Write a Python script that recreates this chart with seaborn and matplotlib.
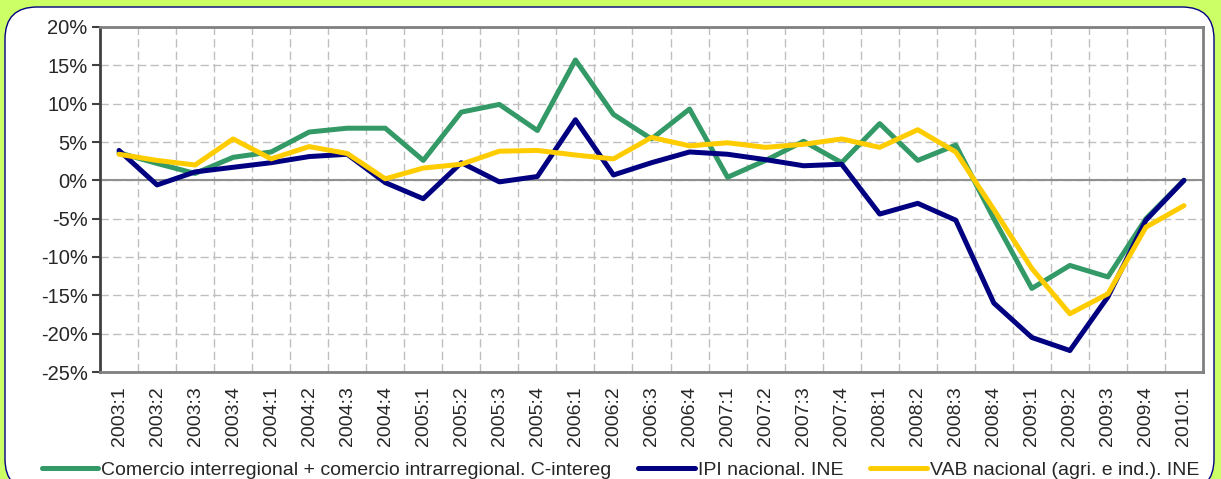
import matplotlib
matplotlib.use("Agg")
import matplotlib.pyplot as plt
from matplotlib.patches import FancyBboxPatch
from matplotlib.ticker import FuncFormatter
import seaborn as sns
import pandas as pd

quarters = ["2003:1", "2003:2", "2003:3", "2003:4", "2004:1", "2004:2", "2004:3", "2004:4",
            "2005:1", "2005:2", "2005:3", "2005:4", "2006:1", "2006:2", "2006:3", "2006:4",
            "2007:1", "2007:2", "2007:3", "2007:4", "2008:1", "2008:2", "2008:3", "2008:4",
            "2009:1", "2009:2", "2009:3", "2009:4", "2010:1"]

comercio = [3.6, 2.2, 0.9, 3.0, 3.7, 6.3, 6.8, 6.8, 2.6, 8.9, 9.9, 6.5, 15.7, 8.6, 5.4,
            9.3, 0.4, 2.6, 5.1, 2.3, 7.4, 2.6, 4.6, -5.0, -14.1, -11.1, -12.6, -5.0, 0.0]
ipi = [3.9, -0.6, 1.1, 1.7, 2.3, 3.1, 3.4, -0.3, -2.4, 2.3, -0.2, 0.5, 7.9, 0.7, 2.3,
       3.7, 3.4, 2.7, 1.9, 2.1, -4.4, -3.0, -5.2, -16.0, -20.5, -22.2, -15.2, -5.2, 0.0]
vab = [3.4, 2.6, 2.0, 5.4, 2.8, 4.4, 3.5, 0.2, 1.6, 2.1, 3.8, 3.9, 3.3, 2.8, 5.6,
       4.5, 4.9, 4.3, 4.7, 5.4, 4.3, 6.6, 3.7, -3.8, -11.5, -17.4, -14.8, -6.1, -3.3]

series_names = ["Comercio interregional + comercio intrarregional. C-intereg",
                "IPI nacional. INE",
                "VAB nacional (agri. e ind.). INE"]
colors = ["#339966", "#000080", "#FFCC00"]

df = pd.concat([
    pd.DataFrame({"trimestre": quarters, "valor": vals, "serie": name})
    for name, vals in zip(series_names, [comercio, ipi, vab])
])

sns.set_style("white")
plt.rcParams["font.family"] = ["Liberation Sans", "DejaVu Sans"]

fig = plt.figure(figsize=(12.21, 4.79), dpi=100)
fig.patch.set_facecolor("#CCFF66")

# white rounded frame behind everything
frame = FancyBboxPatch((0.05, -0.12), 12.09, 4.84,
                       boxstyle="round,pad=0,rounding_size=0.32",
                       transform=fig.dpi_scale_trans, facecolor="white",
                       edgecolor="#000080", linewidth=1.0, zorder=-5)
fig.add_artist(frame)

ax = fig.add_axes([100 / 1221, 1 - 372 / 479, 1103 / 1221, 345 / 479])
ax.set_facecolor("white")

sns.lineplot(data=df, x="trimestre", y="valor", hue="serie", palette=colors,
             linewidth=3.6, sort=False, ax=ax, legend=True, zorder=3)

ax.set_xlim(-0.5, len(quarters) - 0.5)
ax.set_ylim(-25, 20)
ax.set_yticks(range(-25, 21, 5))
ax.yaxis.set_major_formatter(FuncFormatter(lambda v, p: f"{v:.0f}%"))
ax.set_xticks(range(len(quarters)))
ax.set_xticklabels(quarters, rotation=90)
ax.set_xticks([i + 0.5 for i in range(len(quarters) - 1)], minor=True)
ax.set_xlabel("")
ax.set_ylabel("")

ax.grid(True, axis="y", which="major", color="#BFBFBF", linestyle=(0, (6, 3)), linewidth=1.0)
ax.grid(True, axis="x", which="minor", color="#BFBFBF", linestyle=(0, (6, 3)), linewidth=1.0)
ax.grid(False, axis="x", which="major")
ax.axhline(0, color="#909090", linewidth=1.5, zorder=2)

ax.tick_params(axis="y", labelsize=14.5, length=6, width=1.5, color="#404040", pad=3, left=True)
ax.tick_params(axis="x", which="major", labelsize=14, length=0, pad=10)
ax.tick_params(axis="x", which="minor", length=0)

for side in ["top", "right", "bottom"]:
    ax.spines[side].set_color("#808080")
    ax.spines[side].set_linewidth(2)
ax.spines["left"].set_color("#404040")
ax.spines["left"].set_linewidth(2)

handles, labels = ax.get_legend_handles_labels()
ax.get_legend().remove()
fig.legend(handles, labels, loc="lower left", bbox_to_anchor=(24 / 1221, -0.037),
           ncol=3, frameon=False, fontsize=14, handlelength=2.9, handletextpad=0.15,
           columnspacing=1.4)

fig.savefig("out.png", dpi=100, facecolor=fig.get_facecolor())
